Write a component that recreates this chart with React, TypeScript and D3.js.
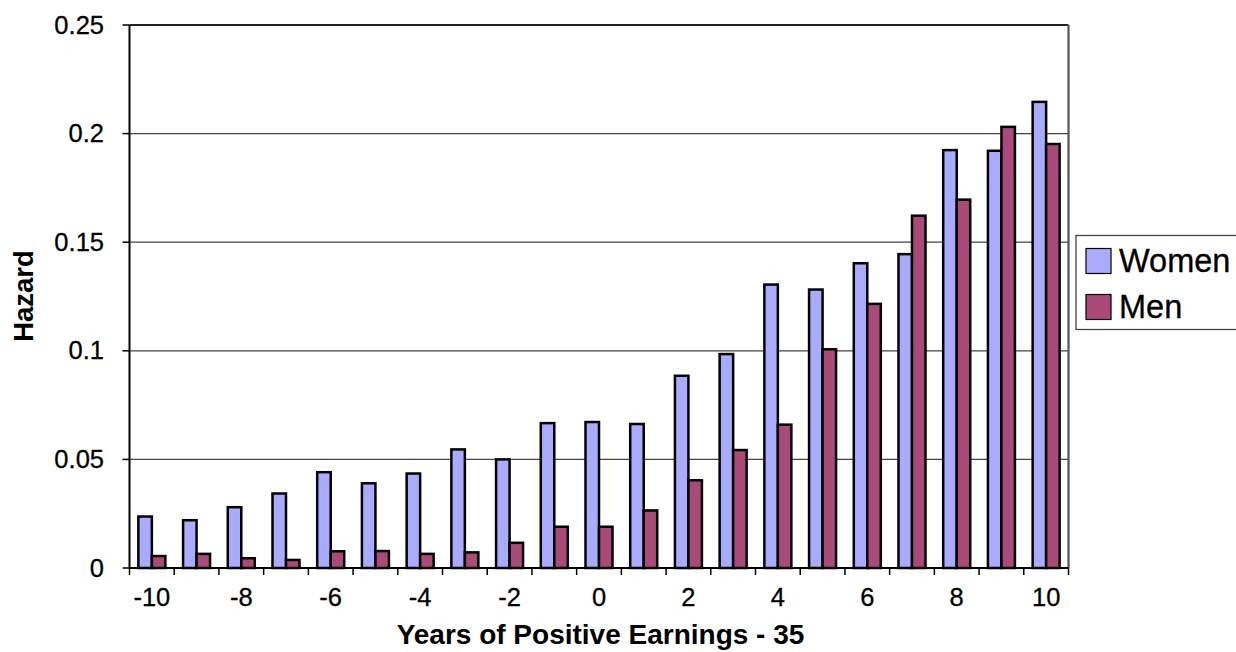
import React from "react";
import * as d3 from "d3";

const categories = [-10, -9, -8, -7, -6, -5, -4, -3, -2, -1, 0, 1, 2, 3, 4, 5, 6, 7, 8, 9, 10];
const women = [0.0237, 0.022, 0.028, 0.0343, 0.0441, 0.039, 0.0435, 0.0546, 0.05, 0.0667, 0.0672, 0.0663, 0.0885, 0.0985, 0.1305, 0.1282, 0.1403, 0.1445, 0.1924, 0.1921, 0.2146];
const men = [0.0055, 0.0065, 0.0045, 0.0037, 0.0077, 0.0078, 0.0065, 0.0072, 0.0116, 0.019, 0.019, 0.0265, 0.0404, 0.0543, 0.066, 0.1007, 0.1216, 0.1622, 0.1696, 0.2031, 0.1952];
const seriesNames = ["Women", "Men"];
const yTicks = [0, 0.05, 0.1, 0.15, 0.2, 0.25];
const xLabelCats = [-10, -8, -6, -4, -2, 0, 2, 4, 6, 8, 10];

const colors: Record<string, string> = { Women: "#a9abff", Men: "#aa4a78" };

export default function App() {
  const W = 1236, H = 652;
  const left = 129.5, right = 1068.5, top = 25, bottom = 568;
  const x0 = d3.scaleBand<number>().domain(categories).range([left, right]).paddingInner(0).paddingOuter(0);
  const x1 = d3.scaleBand<string>().domain(seriesNames).range([0, x0.bandwidth()]).paddingInner(0).paddingOuter(0.656);
  const y = d3.scaleLinear().domain([0, 0.25]).range([bottom, top]);
  const data: Record<string, number[]> = { Women: women, Men: men };
  const font = "Liberation Sans, Arial, Helvetica, sans-serif";
  const boundaries = categories.map((c) => x0(c)!).concat([right]);

  return (
    <svg width={W} height={H} style={{ position: "absolute", left: 0, top: 0, background: "#fff" }} fontFamily={font}>
      {/* gridlines */}
      {yTicks.slice(1, -1).map((t) => (
        <line key={"g" + t} x1={left} x2={right} y1={y(t)} y2={y(t)} stroke="#444" strokeWidth={1.3} />
      ))}
      {/* plot border top/right */}
      <line x1={left} x2={right} y1={top} y2={top} stroke="#222" strokeWidth={2} />
      <line x1={right} x2={right} y1={top} y2={bottom} stroke="#555" strokeWidth={2.2} />
      {/* bars */}
      {categories.map((c, i) =>
        seriesNames.map((s) => {
          const v = data[s][i];
          return (
            <rect
              key={s + c}
              x={x0(c)! + x1(s)!}
              y={y(v)}
              width={x1.bandwidth()}
              height={y(0) - y(v)}
              fill={colors[s]}
              stroke="#000"
              strokeWidth={2.5}
            />
          );
        })
      )}
      {/* axes */}
      <line x1={left} x2={left} y1={top} y2={bottom} stroke="#000" strokeWidth={2} />
      <line x1={left} x2={right} y1={bottom} y2={bottom} stroke="#000" strokeWidth={1.8} />
      {yTicks.map((t) => (
        <g key={"y" + t}>
          <line x1={left - 7} x2={left} y1={y(t)} y2={y(t)} stroke="#000" strokeWidth={1.5} />
          <text x={104} y={y(t) + 8.5} textAnchor="end" fontSize={25.5} fill="#000" stroke="#000" strokeWidth={0.3}>
            {String(t)}
          </text>
        </g>
      ))}
      {boundaries.map((b, i) => (
        <line key={"xt" + i} x1={b} x2={b} y1={bottom} y2={bottom + 7} stroke="#000" strokeWidth={1.5} />
      ))}
      {xLabelCats.map((c) => (
        <text key={"xl" + c} x={x0(c)! + x0.bandwidth() / 2} y={606} textAnchor="middle" fontSize={25.5} fill="#000" stroke="#000" strokeWidth={0.3}>
          {String(c)}
        </text>
      ))}
      {/* axis titles */}
      <text x={600.5} y={644} textAnchor="middle" fontSize={28} fontWeight="bold" fill="#000">
        Years of Positive Earnings - 35
      </text>
      <text transform="translate(33,296) rotate(-90)" textAnchor="middle" fontSize={27.5} fontWeight="bold" fill="#000">
        Hazard
      </text>
      {/* legend */}
      <rect x={1076} y={235.5} width={200} height={94} fill="#fff" stroke="#444" strokeWidth={1.3} />
      {seriesNames.map((s, i) => (
        <g key={"lg" + s}>
          <rect x={1086} y={248.5 + i * 46} width={25} height={25} fill={colors[s]} stroke="#000" strokeWidth={1.2} />
          <text x={1119} y={272 + i * 46} fontSize={32.5} fill="#000" stroke="#000" strokeWidth={0.3}>
            {s}
          </text>
        </g>
      ))}
    </svg>
  );
}
